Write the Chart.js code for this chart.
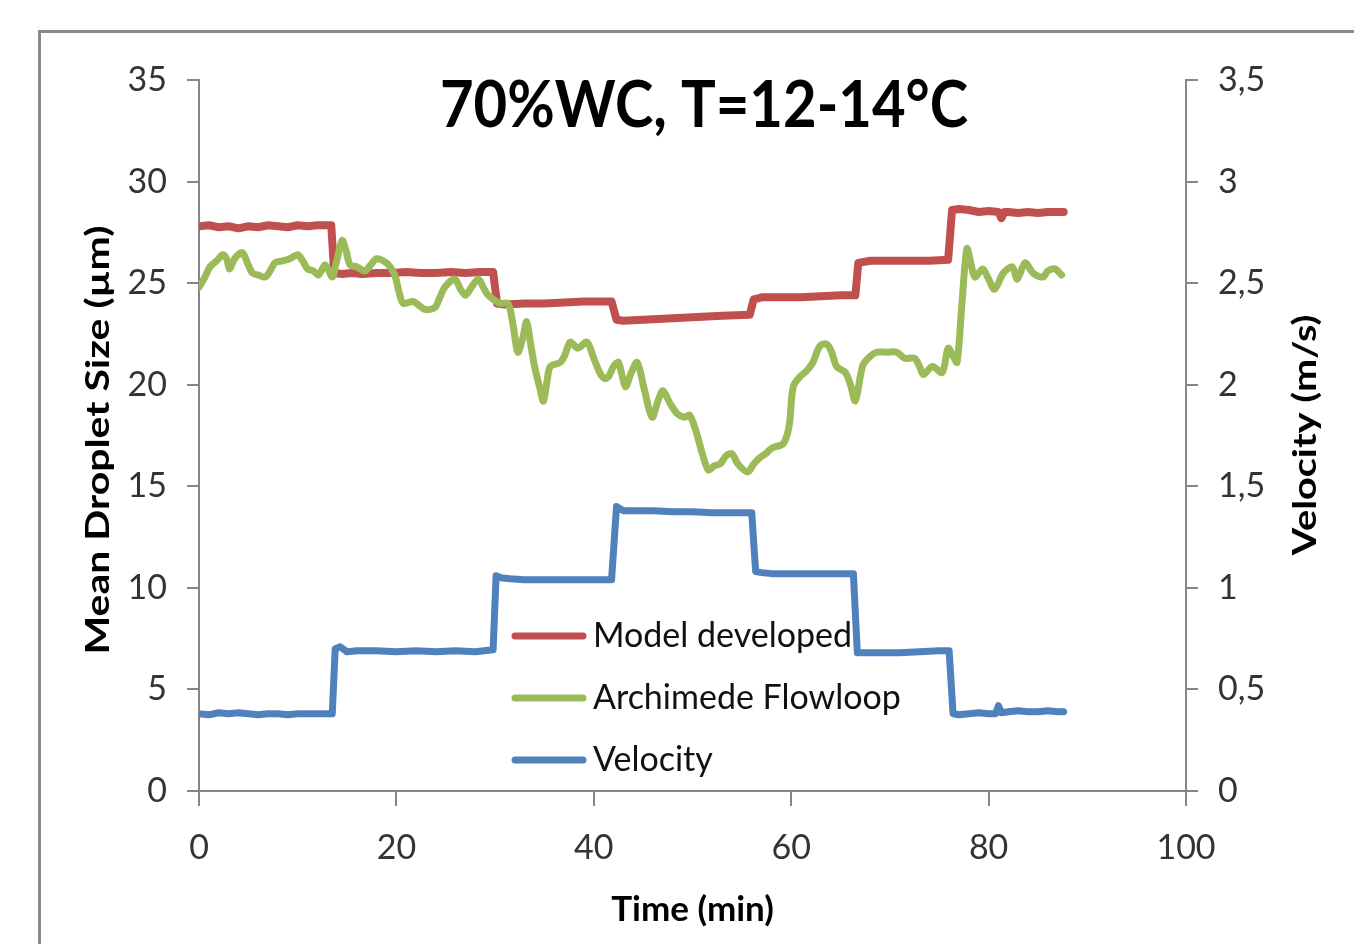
<!DOCTYPE html>
<html>
<head>
<meta charset="utf-8">
<title>70%WC droplet size</title>
<script src="https://cdn.jsdelivr.net/npm/chart.js@4.4.1/dist/chart.umd.min.js"></script>
<style>
  html, body { margin: 0; padding: 0; background: #fff; overflow: hidden; }
  #frame {
    position: absolute; left: 38px; top: 30px;
    width: 1400px; height: 1000px;
    border: 3px solid #8a8a8a;
  }
  #chart { position: absolute; left: 0; top: 0; }
</style>
</head>
<body>
<div id="frame"></div>
<canvas id="chart" width="1354" height="944"></canvas>
<script>
// ---- data ----
const xTicks = [0, 20, 40, 60, 80, 100];
const yTicks = [0, 5, 10, 15, 20, 25, 30, 35];
const y1Ticks = ['0', '0,5', '1', '1,5', '2', '2,5', '3', '3,5'];

// Model developed (µm)
const modelTime = [0, 1, 2, 3, 4, 5, 6, 7, 8, 9, 10, 11, 12, 13.4, 13.7, 14.5, 15.5, 16.5, 18, 19.5, 21, 22.5, 24, 25.5, 27, 28.5, 29.8,
  30.2, 31, 33, 35, 37, 39, 41.8, 42.3, 43, 45, 47, 49, 51, 53, 55.8, 56.2, 57, 59, 61, 63, 65, 66.5,
  66.8, 68, 70, 72, 74, 75.9, 76.3, 77, 78, 79, 80, 81, 81.3, 81.6, 82, 83, 84, 85, 86, 87, 87.6];
const modelSize = [27.8, 27.85, 27.75, 27.8, 27.7, 27.8, 27.75, 27.85, 27.8, 27.75, 27.85, 27.8, 27.85, 27.85, 25.5, 25.45, 25.5, 25.45, 25.5, 25.5, 25.55, 25.5, 25.5, 25.55, 25.5, 25.55, 25.55,
  24.0, 23.95, 24.0, 24.0, 24.05, 24.1, 24.1, 23.2, 23.15, 23.2, 23.25, 23.3, 23.35, 23.4, 23.45, 24.2, 24.3, 24.3, 24.3, 24.35, 24.4, 24.4,
  26.0, 26.1, 26.1, 26.1, 26.1, 26.15, 28.6, 28.65, 28.6, 28.5, 28.55, 28.5, 28.2, 28.5, 28.5, 28.45, 28.5, 28.45, 28.5, 28.5, 28.5];

// Archimede Flowloop (µm)
const loopTime = [0.0, 0.6, 1.1, 1.8, 2.4, 2.8, 3.1, 3.6, 4.4, 4.9, 5.4, 6.0, 6.7, 7.2, 7.7, 8.5, 9.2, 10.0, 10.5, 11.0,
  11.6, 12.1, 12.8, 13.5, 13.9, 14.5, 14.9, 15.3, 16.0, 16.8, 17.4, 18.0, 19.0, 19.5, 19.9, 20.3, 20.7, 21.7, 22.3, 22.9,
  23.9, 24.4, 24.9, 25.9, 26.5, 27.0, 27.6, 28.3, 28.8, 29.3, 30.5, 31.3, 31.8, 32.3, 32.8, 33.2, 33.6, 34.0, 34.5, 34.9,
  35.3, 35.6, 36.6, 37.1, 37.6, 38.4, 39.3, 40.0, 40.6, 41.1, 41.5, 42.0, 42.5, 43.2, 43.8, 44.4, 45.1, 45.9, 46.5, 47.0,
  47.7, 48.4, 49.2, 49.7, 50.3, 51.0, 51.6, 52.2, 52.8, 53.4, 54.0, 54.6, 55.6, 56.2, 56.8, 57.4, 58.1, 59.2, 59.8, 60.2,
  60.9, 61.6, 62.2, 62.9, 63.6, 64.1, 64.6, 65.5, 66.0, 66.5, 67.0, 67.3, 68.0, 68.7, 69.7, 70.7, 71.5, 72.5, 73.0, 73.4,
  74.3, 75.3, 75.9, 76.4, 76.8, 77.3, 77.8, 78.2, 78.6, 79.4, 80.0, 80.6, 81.5, 82.4, 82.9, 83.7, 84.5, 85.5, 86.0, 86.7, 87.4];
const loopSize = [24.8, 25.3, 25.8, 26.1, 26.4, 26.2, 25.7, 26.2, 26.5, 26.0, 25.5, 25.4, 25.3, 25.6, 26.0, 26.1, 26.2, 26.4, 26.1, 25.7,
  25.6, 25.4, 25.9, 25.3, 26.0, 27.1, 26.6, 25.9, 25.8, 25.6, 25.9, 26.2, 26.0, 25.7, 25.3, 24.5, 24.0, 24.1, 23.9, 23.7,
  23.8, 24.3, 24.8, 25.2, 24.7, 24.4, 24.8, 25.2, 24.8, 24.4, 24.0, 24.0, 23.0, 21.6, 22.3, 23.1, 22.0, 20.9, 19.9, 19.2,
  20.3, 20.9, 21.1, 21.5, 22.1, 21.8, 22.1, 21.3, 20.6, 20.3, 20.4, 20.9, 21.1, 19.9, 20.6, 21.1, 19.8, 18.4, 19.2, 19.7,
  19.1, 18.6, 18.4, 18.5, 17.8, 16.6, 15.8, 16.0, 16.1, 16.5, 16.6, 16.1, 15.7, 16.1, 16.4, 16.6, 16.9, 17.1, 18.0, 19.9,
  20.4, 20.7, 21.1, 21.9, 22.0, 21.6, 20.9, 20.6, 20.0, 19.2, 20.4, 21.0, 21.4, 21.6, 21.6, 21.6, 21.3, 21.3, 20.9, 20.5,
  20.9, 20.6, 21.8, 21.4, 21.1, 24.0, 26.7, 26.0, 25.3, 25.7, 25.2, 24.7, 25.5, 25.8, 25.2, 26.0, 25.5, 25.3, 25.6, 25.7, 25.4];

// Velocity (m/s)
const velTime = [0, 1, 2, 3, 4, 5, 6, 7, 8, 9, 10, 11, 12, 13.5, 13.8, 14.3, 15, 16, 17, 18, 20, 22, 24, 26, 28, 29.8,
  30.1, 30.6, 31.5, 33, 35, 37, 39, 41.8, 42.3, 43, 44, 46, 48, 50, 52, 54, 56.0, 56.4, 57, 58, 60, 62, 64, 66.3,
  66.7, 67.5, 69, 71, 73, 75, 76.0, 76.4, 77, 78, 79, 80, 80.7, 81.0, 81.3, 82, 83, 84, 85, 86, 87, 87.6];
const velValue = [0.38, 0.375, 0.385, 0.38, 0.385, 0.38, 0.375, 0.38, 0.38, 0.375, 0.38, 0.38, 0.38, 0.38, 0.70, 0.71, 0.685, 0.69, 0.69, 0.69, 0.685, 0.69, 0.685, 0.69, 0.685, 0.695,
  1.06, 1.05, 1.045, 1.04, 1.04, 1.04, 1.04, 1.04, 1.40, 1.38, 1.38, 1.38, 1.375, 1.375, 1.37, 1.37, 1.37, 1.08, 1.075, 1.07, 1.07, 1.07, 1.07, 1.07,
  0.68, 0.68, 0.68, 0.68, 0.685, 0.69, 0.69, 0.38, 0.375, 0.38, 0.385, 0.38, 0.38, 0.42, 0.385, 0.39, 0.395, 0.39, 0.39, 0.395, 0.39, 0.39];

const seriesNames = ['Model developed', 'Archimede Flowloop', 'Velocity'];
const seriesColors = ['#C0504D', '#9BBB59', '#4F81BD'];

// ---- helpers ----
const toPoints = (xs, ys) => xs.map((x, i) => ({ x: x, y: ys[i] }));
const AXIS_GRAY = '#868686';
const FONT = 'Lato, "Open Sans", sans-serif';

// fixed plot box so the layout matches the picture
const fixWidth = (w) => (scale) => { scale.width = w; };
const fixHeight = (h) => (scale) => { scale.height = h; };

// rotated axis title, stretched a bit along its length like the original
function drawVerticalTitle(ctx, text, x, y, stretch) {
    ctx.save();
    ctx.translate(x, y);
    ctx.rotate(-Math.PI / 2);
    ctx.scale(stretch, 1);
    ctx.font = 'bold 33px ' + FONT;
    ctx.textAlign = 'center';
    ctx.textBaseline = 'middle';
    ctx.fillStyle = '#000';
    ctx.fillText(text, 0, 0);
    ctx.restore();
}

// title, axis titles and the in-plot legend
const overlayPlugin = {
    id: 'overlay',
    afterDatasetsDraw(chart) {
        const ctx = chart.ctx;
        ctx.save();

        // chart title
        ctx.save();
        ctx.translate(704, 106);
        ctx.scale(1, 1.12);
        ctx.fillStyle = '#000';
        ctx.font = 'bold 58px ' + FONT;
        ctx.textAlign = 'center';
        ctx.textBaseline = 'middle';
        ctx.fillText('70%WC, T=12-14°C', 0, 0);
        ctx.restore();

        drawVerticalTitle(ctx, 'Mean Droplet Size (µm)', 98, 440, 1.24);
        drawVerticalTitle(ctx, 'Velocity (m/s)', 1305, 435, 1.2);

        // legend
        const rowY = [636, 698, 760];
        ctx.font = '34px ' + FONT;
        ctx.textAlign = 'left';
        ctx.textBaseline = 'middle';
        ctx.lineCap = 'round';
        ctx.lineWidth = 7;
        seriesNames.forEach((name, i) => {
            ctx.strokeStyle = seriesColors[i];
            ctx.beginPath();
            ctx.moveTo(515, rowY[i]);
            ctx.lineTo(583, rowY[i]);
            ctx.stroke();
            ctx.fillStyle = '#111';
            ctx.fillText(name, 593, rowY[i]);
        });
        ctx.restore();
    }
};

const chart = new Chart(document.getElementById('chart'), {
    type: 'line',
    data: {
        datasets: [
            {
                label: seriesNames[0],
                data: toPoints(modelTime, modelSize),
                borderColor: seriesColors[0],
                borderWidth: 8,
                tension: 0,
                yAxisID: 'y',
                order: 2
            },
            {
                label: seriesNames[1],
                data: toPoints(loopTime, loopSize),
                borderColor: seriesColors[1],
                borderWidth: 7,
                tension: 0.3,
                yAxisID: 'y',
                order: 1
            },
            {
                label: seriesNames[2],
                data: toPoints(velTime, velValue),
                borderColor: seriesColors[2],
                borderWidth: 7,
                tension: 0,
                yAxisID: 'y1',
                order: 3
            }
        ]
    },
    options: {
        responsive: false,
        animation: false,
        devicePixelRatio: 1,
        layout: { padding: { top: 80, left: 0, right: 0, bottom: 0 } },
        elements: {
            point: { radius: 0 },
            line: { borderCapStyle: 'round', borderJoinStyle: 'round', fill: false }
        },
        plugins: {
            legend: { display: false },
            title: { display: false },
            tooltip: { enabled: false }
        },
        scales: {
            x: {
                type: 'linear',
                position: 'bottom',
                min: 0,
                max: 100,
                afterFit: fixHeight(153),
                afterBuildTicks: (scale) => { scale.ticks = xTicks.map(v => ({ value: v })); },
                ticks: { color: '#333', font: { family: FONT, size: 34 }, padding: 22, maxRotation: 0 },
                grid: { drawOnChartArea: false, drawTicks: true, tickLength: 15, color: AXIS_GRAY, lineWidth: 2 },
                border: { color: AXIS_GRAY, width: 2 },
                title: {
                    display: true,
                    text: 'Time (min)',
                    color: '#000',
                    font: { family: FONT, size: 35, weight: 'bold' },
                    padding: { top: 0, bottom: 13 }
                }
            },
            y: {
                type: 'linear',
                position: 'left',
                min: 0,
                max: 35,
                afterFit: fixWidth(199),
                afterBuildTicks: (scale) => { scale.ticks = yTicks.map(v => ({ value: v })); },
                ticks: { color: '#333', font: { family: FONT, size: 34 }, padding: 20 },
                grid: { drawOnChartArea: false, drawTicks: true, tickLength: 12, color: AXIS_GRAY, lineWidth: 2 },
                border: { color: AXIS_GRAY, width: 2 }
            },
            y1: {
                type: 'linear',
                position: 'right',
                min: 0,
                max: 3.5,
                afterFit: fixWidth(168),
                afterBuildTicks: (scale) => { scale.ticks = y1Ticks.map((t, i) => ({ value: i * 0.5 })); },
                ticks: {
                    color: '#333',
                    font: { family: FONT, size: 34 },
                    padding: 20,
                    callback: (value, index) => y1Ticks[index]
                },
                grid: { drawOnChartArea: false, drawTicks: true, tickLength: 12, color: AXIS_GRAY, lineWidth: 2 },
                border: { color: AXIS_GRAY, width: 2 }
            }
        }
    },
    plugins: [overlayPlugin]
});
</script>
</body>
</html>
